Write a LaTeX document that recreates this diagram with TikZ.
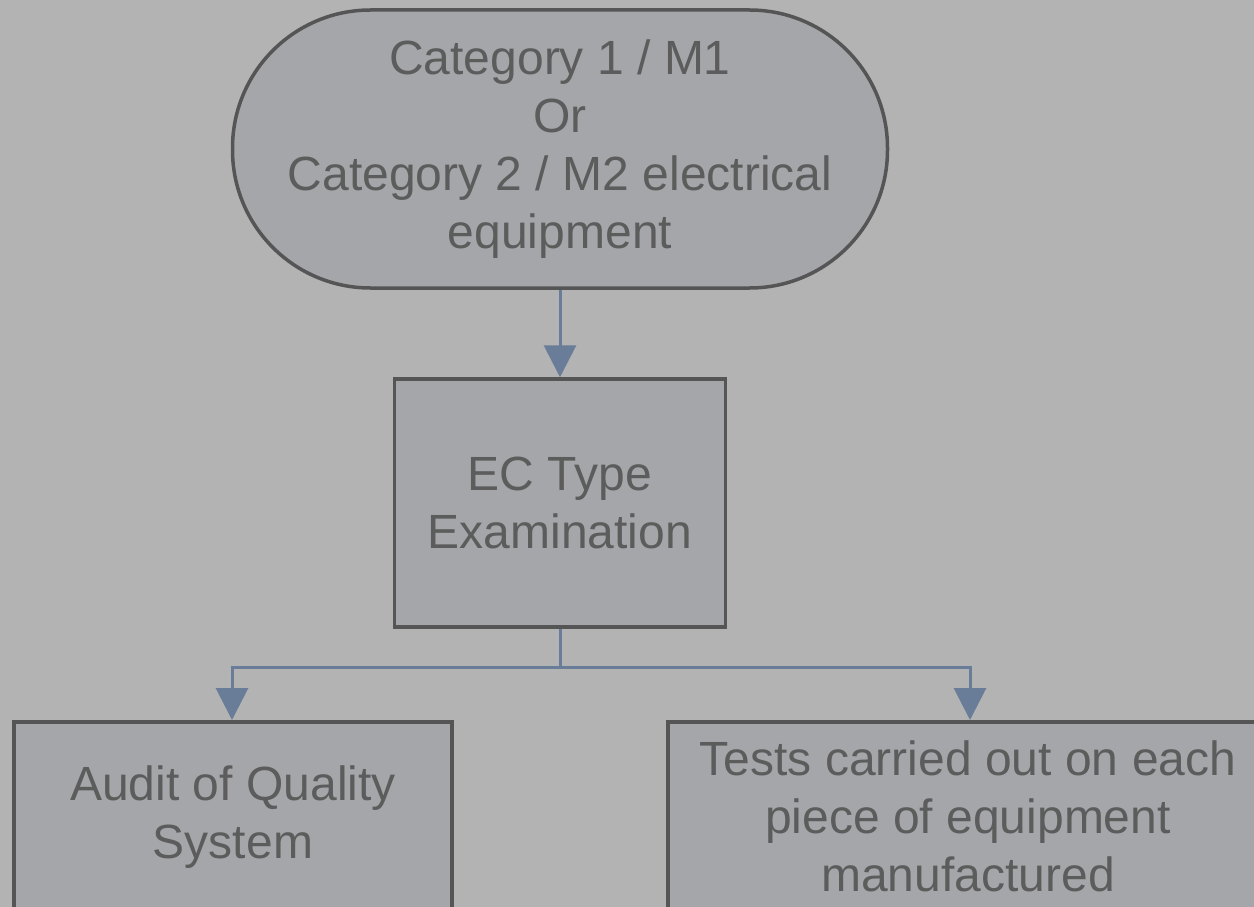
\documentclass[tikz,border=0pt]{standalone}
\usepackage{fontspec}
\setmainfont{Liberation Sans}
\usetikzlibrary{arrows.meta}
\definecolor{bgc}{HTML}{B3B3B3}
\definecolor{boxfill}{HTML}{A5A6A9}
\definecolor{boxline}{HTML}{555555}
\definecolor{txt}{HTML}{5C5C5C}
\definecolor{arrc}{HTML}{6A7D98}
\tikzset{
  box/.style={draw=boxline, line width=3.5pt, fill=boxfill, text=txt, align=center,
    font=\fontsize{48}{58}\selectfont, inner sep=0pt},
  conn/.style={draw=arrc, line width=3pt},
  arr/.style={conn, -{Triangle[length=32pt,width=32pt]}}
}
\begin{document}
\begin{tikzpicture}[x=1pt,y=-1pt]
\useasboundingbox (0,0) rectangle (1254,907);
\fill[bgc] (0,0) rectangle (1254,907);
\clip (0,0) rectangle (1254,907);
\node[box, minimum width=655pt, minimum height=278pt, rounded corners=138pt] (cat) at (560,149)
  {Category 1 / M1\\Or\\Category 2 / M2 electrical\\equipment};
\node[box, minimum width=331pt, minimum height=248pt] (ec) at (560,503)
  {EC Type\\Examination};
\node[box, minimum width=438pt, minimum height=190pt, anchor=north] (aud) at (233,720)
  {Audit of Quality\\System};
\node[box, minimum width=600pt, minimum height=190pt, anchor=north] (tst) at (968,720)
  {Tests carried out on each\\piece of equipment\\manufactured};
\coordinate (split) at (560,667);
\draw[arr] (cat.south) -- (ec.north);
\draw[conn] (ec.south) -- (split);
\draw[arr] (split) -| (aud.north -| 232,0);
\draw[arr] (split) -| (tst.north -| 970,0);
\end{tikzpicture}
\end{document}
